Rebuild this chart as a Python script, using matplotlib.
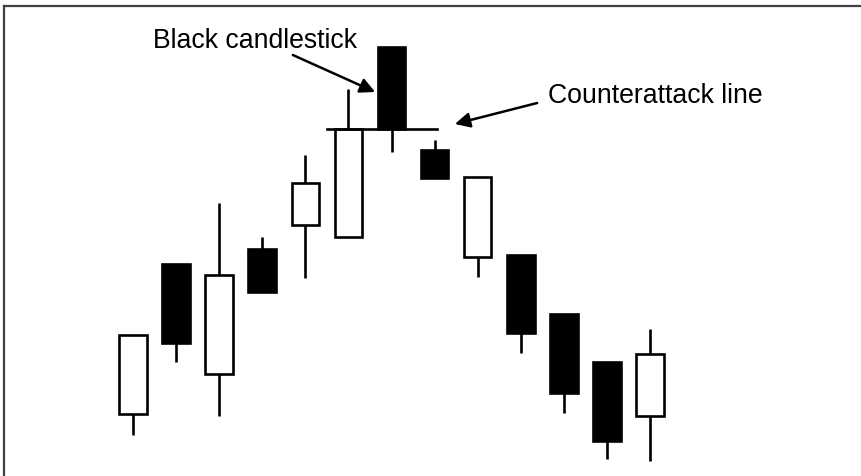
import matplotlib
matplotlib.use("Agg")
import matplotlib.pyplot as plt
from matplotlib.lines import Line2D
from matplotlib.patches import Rectangle

plt.rcParams['font.family'] = ['Liberation Sans', 'DejaVu Sans']

# candle data (arbitrary price units)
opens = [6.2, 21.2, 10.2, 22.7, 25.1, 23.9, 42.9, 32.6, 21.9, 22.1, 16.2, 11.4, 6.0]
closes = [14.1, 13.3, 20.1, 18.4, 29.3, 34.7, 34.7, 29.8, 29.9, 14.3, 8.3, 3.5, 12.2]
highs = [14.1, 21.2, 27.3, 23.9, 32.1, 38.7, 42.9, 33.6, 29.9, 22.1, 16.2, 11.4, 14.7]
lows = [4.1, 11.4, 6.0, 18.4, 19.8, 23.9, 32.4, 29.8, 19.9, 12.3, 6.3, 1.7, 1.5]

counter_level = 34.7
labels = ["Black candlestick", "Counterattack line"]

fig = plt.figure(figsize=(8.62, 4.76), dpi=100)
ax = fig.add_axes([0, 0, 1, 1])
ax.set_xlim(-3.087, 16.92)
ax.set_ylim(0, 47.6)
ax.axis('off')

body_w = 0.64
lw = 1.9
for i, (o, c, h, l) in enumerate(zip(opens, closes, highs, lows)):
    ax.plot([i, i], [l, h], color='black', lw=lw, zorder=1, solid_capstyle='butt')
    bottom = min(o, c)
    height = abs(c - o)
    face = 'black' if c < o else 'white'
    ax.add_patch(Rectangle((i - body_w / 2, bottom), body_w, height,
                           facecolor=face, edgecolor='black', lw=lw, zorder=2))

# counterattack level
ax.plot([4.5, 7.06], [counter_level, counter_level], color='black', lw=lw, zorder=3)

ax.text(0.46, 42.8, labels[0], fontsize=19.2, va='baseline', ha='left')
ax.text(9.63, 37.3, labels[1], fontsize=19.2, va='baseline', ha='left')

arrow = dict(arrowstyle='-|>,head_length=0.6,head_width=0.3', color='black',
             lw=1.8, mutation_scale=15, shrinkA=0, shrinkB=0)
ax.annotate('', xy=(5.62, 38.4), xytext=(3.71, 42.1), arrowprops=arrow)
ax.annotate('', xy=(7.47, 35.2), xytext=(9.38, 37.3), arrowprops=arrow)

# frame (only top and left visible)
fig.add_artist(Line2D([4.5 / 862, 1], [1 - 5.5 / 476, 1 - 5.5 / 476],
                      transform=fig.transFigure, color='#404040', lw=1.6))
fig.add_artist(Line2D([4.5 / 862, 4.5 / 862], [0, 1 - 5.5 / 476],
                      transform=fig.transFigure, color='#404040', lw=1.6))

fig.savefig("out.png", dpi=100)
